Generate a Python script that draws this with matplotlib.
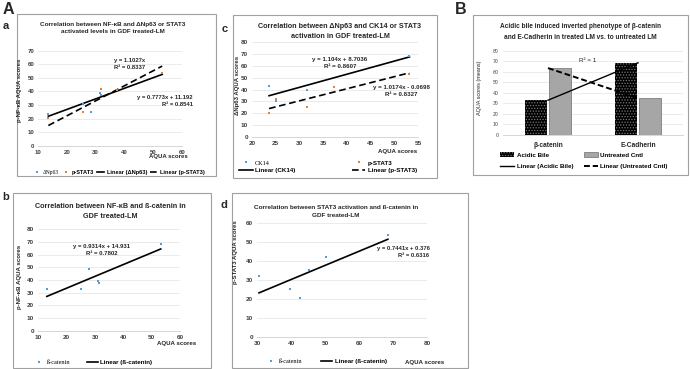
import numpy as np
import matplotlib
matplotlib.use("Agg")
import matplotlib.pyplot as plt
from matplotlib.lines import Line2D
from matplotlib.patches import Patch, Rectangle

# ---- data ----
# panel a: NF-kB vs dNp63 / STAT3
a_dnp63_x = [13.5, 25.5, 28.5, 31.5, 31.8, 53.2]
a_dnp63_y = [23.5, 31.0, 25.0, 38.5, 37.0, 53.5]
a_stat3_x = [13.5, 25.5, 31.8, 37.5, 53.2]
a_stat3_y = [20.5, 25.0, 42.0, 41.0, 53.5]
a_dnp63_fit = [0.7773, 11.192]
a_stat3_fit = [1.1027, 0.0]

# panel c: dNp63 vs CK14 / STAT3
c_ck14_x = [23.6, 25.1, 31.5, 53.2]
c_ck14_y = [42.7, 30.5, 39.9, 68.2]
c_stat3_x = [23.6, 25.1, 31.5, 37.3, 53.2]
c_stat3_y = [20.3, 31.7, 25.3, 42.1, 53.4]
c_ck14_fit = [1.104, 8.7036]
c_stat3_fit = [1.0174, -0.0698]

# panel b: NF-kB vs b-catenin
b_cat_x = [13.0, 25.1, 28.0, 31.0, 31.4, 53.2]
b_cat_y = [32.8, 32.9, 48.7, 39.0, 37.4, 68.4]
b_cat_fit = [0.9314, 14.931]

# panel d: STAT3 vs b-catenin
d_cat_x = [30.5, 39.6, 42.6, 45.2, 50.2, 68.4]
d_cat_y = [31.8, 25.1, 20.2, 35.1, 42.1, 53.7]
d_cat_fit = [0.7441, 0.376]

# panel B: bars
B_cats = ["β-catenin", "E-Cadherin"]
B_acidic = [33.0, 68.5]
B_untreated = [63.5, 35.0]

W, H = 690, 369
BLUE = "#5b9bd5"
ORANGE = "#ed7d31"
SANS = ["Liberation Sans Narrow", "Liberation Sans", "DejaVu Sans"]
SERIF = ["Liberation Serif", "DejaVu Serif"]
plt.rcParams["font.family"] = SANS
plt.rcParams["hatch.linewidth"] = 0.6
DASH = (0, (4, 2.2))


def box(l, t, r, b):
    return [l / W, 1 - b / H, (r - l) / W, (b - t) / H]


def fx(x):
    return x / W


def fy(y):
    return 1 - y / H


fig = plt.figure(figsize=(6.9, 3.69), dpi=100)


def frame(l, t, r, b):
    fig.patches.append(Rectangle((l / W, 1 - b / H), (r - l) / W, (b - t) / H,
                                 transform=fig.transFigure, fill=False,
                                 edgecolor="#a0a0a0", lw=0.8))


def txt(x, y, s, size=4.5, bold=True, ha="center", **kw):
    fig.text(fx(x), fy(y), s, fontsize=size, ha=ha, va="center",
             fontweight="bold" if bold else "normal", color="#262626", **kw)


def excel(ax, size=4.6):
    for s in ["top", "right", "left"]:
        ax.spines[s].set_visible(False)
    ax.spines["bottom"].set_color("#d0d0d0")
    ax.spines["bottom"].set_linewidth(0.6)
    ax.grid(axis="y", color="#e3e3e3", lw=0.5)
    ax.set_axisbelow(True)
    ax.tick_params(length=0, labelsize=size, pad=3, colors="#404040")
    for lab in ax.get_xticklabels() + ax.get_yticklabels():
        lab.set_fontweight("bold")


def trend(ax, xs, fit, **kw):
    xx = np.array([min(xs), max(xs)])
    ax.plot(xx, np.polyval(fit, xx), color="black", lw=1.2, **kw)


def pts(ax, xs, ys, c):
    ax.plot(xs, ys, "s", ms=2.1, color=c, mew=0, zorder=5)


def legend(handles, labels, x, y, ncol, serif=(), size=4.5, **kw):
    lg = fig.legend(handles, labels, loc="center", bbox_to_anchor=(fx(x), fy(y)),
                    ncol=ncol, frameon=False, fontsize=size, handletextpad=0.4,
                    borderpad=0, **kw)
    for t in lg.get_texts():
        if t.get_text() in serif:
            t.set_family(SERIF)
        else:
            t.set_fontweight("bold")
    return lg


mk_blue = Line2D([], [], marker="s", ls="none", ms=2.1, color=BLUE, mew=0)
mk_orange = Line2D([], [], marker="s", ls="none", ms=2.1, color=ORANGE, mew=0)
ln_solid = Line2D([], [], color="black", lw=1.2)
ln_dash = Line2D([], [], color="black", lw=1.2, ls=DASH)

# ---- panel a ----
frame(17, 14, 216, 176)
ax = fig.add_axes(box(38.3, 50.7, 181.7, 145.7))
pts(ax, a_dnp63_x, a_dnp63_y, BLUE)
pts(ax, a_stat3_x, a_stat3_y, ORANGE)
trend(ax, a_dnp63_x, a_dnp63_fit)
trend(ax, a_stat3_x, a_stat3_fit, ls=DASH)
ax.set_xlim(10, 60)
ax.set_ylim(0, 70)
ax.set_xticks(range(10, 61, 10))
ax.set_yticks(range(0, 71, 10))
excel(ax, 4.3)
txt(113, 28, "Correlation between NF-κB and ΔNp63 or STAT3\nactivated levels in GDF treated-LM",
    size=4.6, linespacing=1.65)
txt(20, 90, "p-NF-κB AQUA scores", size=4.3, rotation=90)
txt(168, 156, "AQUA scores", size=4.3)
txt(130, 64, "y = 1.1027x\nR² = 0.8337", size=4.2, linespacing=1.5)
txt(165, 101, "y = 0.7773x + 11.192\nR² = 0.8541", size=4.2, linespacing=1.5, multialignment="right")
legend([mk_blue, mk_orange, ln_solid, ln_dash],
       ["ΔNp63", "p-STAT3", "Linear (ΔNp63)", "Linear (p-STAT3)"],
       119, 172.7, 4, serif=("ΔNp63",), size=4.1, handlelength=1.3, columnspacing=0.5)

# ---- panel c ----
frame(233, 15, 437, 178)
ax = fig.add_axes(box(252, 42, 418, 137))
pts(ax, c_ck14_x, c_ck14_y, BLUE)
pts(ax, c_stat3_x, c_stat3_y, ORANGE)
trend(ax, c_ck14_x, c_ck14_fit)
trend(ax, c_stat3_x, c_stat3_fit, ls=DASH)
ax.set_xlim(20, 55)
ax.set_ylim(0, 80)
ax.set_xticks(range(20, 56, 5))
ax.set_yticks(range(0, 81, 10))
excel(ax)
txt(340, 31.5, "Correlation between ΔNp63 and CK14 or STAT3\nactivation in GDF treated-LM",
    size=5.2, linespacing=1.5)
txt(238, 85, "ΔNp63 AQUA scores", size=4.3, rotation=90)
txt(398, 151, "AQUA scores", size=4.4)
txt(340, 63, "y = 1.104x + 8.7036\nR² = 0.8607", size=4.4, linespacing=1.5)
txt(401, 91, "y = 1.0174x - 0.0698\nR² = 0.8327", size=4.4, linespacing=1.5)
legend([mk_blue, ln_solid, mk_orange, ln_dash],
       ["CK14", "Linear (CK14)", "p-STAT3", "Linear (p-STAT3)"],
       328, 166.5, 2, serif=("CK14",), handlelength=2.2, columnspacing=9.0,
       labelspacing=0.3)

# ---- panel b ----
frame(13, 193, 211, 368)
ax = fig.add_axes(box(38.3, 229.3, 180, 330.7))
pts(ax, b_cat_x, b_cat_y, BLUE)
trend(ax, b_cat_x, b_cat_fit)
ax.set_xlim(10, 60)
ax.set_ylim(0, 80)
ax.set_xticks(range(10, 61, 10))
ax.set_yticks(range(0, 81, 10))
excel(ax)
txt(110, 211.5, "Correlation between NF-κB and ß-catenin in\nGDF treated-LM", size=5.2, linespacing=1.5)
txt(20, 277, "p-NF-κB AQUA scores", size=4.4, rotation=90)
txt(177, 344, "AQUA scores", size=4.4)
txt(102, 250, "y = 0.9314x + 14.931\nR² = 0.7802", size=4.3, linespacing=1.5)
legend([mk_blue, ln_solid], ["ß-catenin", "Linear (ß-catenin)"], 93, 362.5, 2,
       serif=("ß-catenin",), handlelength=1.8, columnspacing=2.5)

# ---- panel d ----
frame(232, 193, 468, 368)
ax = fig.add_axes(box(257.3, 222.7, 427.3, 336.7))
pts(ax, d_cat_x, d_cat_y, BLUE)
trend(ax, d_cat_x, d_cat_fit)
ax.set_xlim(30, 80)
ax.set_ylim(0, 60)
ax.set_xticks(range(30, 81, 10))
ax.set_yticks(range(0, 61, 10))
excel(ax)
txt(336, 211.5, "Correlation between STAT3 activation and ß-catenin in\nGDF treated-LM",
    size=4.6, linespacing=1.7)
txt(236, 252, "p-STAT3 AQUA scores", size=4.3, rotation=90)
txt(425, 362.7, "AQUA scores", size=4.4)
txt(403, 252, "y = 0.7441x + 0.376\nR² = 0.6316", size=4.2, linespacing=1.5, multialignment="right")
legend([mk_blue, ln_solid], ["ß-catenin", "Linear (ß-catenin)"], 326, 361.7, 2,
       serif=("ß-catenin",), handlelength=1.8, columnspacing=3.0)

# ---- panel B ----
frame(473, 15, 688, 175)
ax = fig.add_axes(box(503, 50.7, 683, 135))
xpos = np.arange(len(B_cats))
bw = 0.24
ax.bar(xpos - 0.135, B_acidic, bw, color="black", hatch="......", edgecolor="#7a7a7a", lw=0)
ax.bar(xpos + 0.135, B_untreated, bw, color="#a6a6a6", edgecolor="#7f7f7f", lw=0.6)
ax.plot(xpos, B_acidic, color="black", lw=1.0)
ax.plot(xpos, B_untreated, color="black", lw=1.4, ls=(0, (3, 1.5)))
ax.set_xlim(-0.5, 1.5)
ax.set_ylim(0, 80)
ax.set_yticks(range(0, 81, 10))
ax.set_xticks(xpos)
ax.set_xticklabels(B_cats)
excel(ax)
ax.tick_params(axis="x", labelsize=4.8, pad=5, colors="#262626")
ax.tick_params(axis="y", labelsize=3.8, colors="#808080")
txt(580, 32, "Acidic bile induced inverted phenotype of β-catenin\nand E-Cadherin in treated LM vs. to untreated LM",
    size=4.7, linespacing=1.65)
txt(480, 88, "AQUA scores (means)", size=4.0, bold=False, rotation=90)
txt(588, 60, "R² = 1", size=4.5, bold=False)
legend([Patch(facecolor="black", hatch="......", edgecolor="#7a7a7a", lw=0),
        Line2D([], [], color="black", lw=1.0),
        Patch(facecolor="#a6a6a6", edgecolor="#7f7f7f", lw=0.6),
        Line2D([], [], color="black", lw=1.4, ls=(0, (3, 1.5)))],
       ["Acidic Bile", "Linear (Acidic Bile)", "Untreated Cntl", "Linear (Untreated Cntl)"],
       584, 160.5, 2, handlelength=2.3, columnspacing=1.6, labelspacing=0.9)

# panel letters
txt(8, 10, "A", size=11.5, ha="center")
txt(461, 9, "B", size=11.5, ha="center")
txt(6, 26, "a", size=8)
txt(225, 29, "c", size=8)
txt(6, 197, "b", size=8)
txt(224, 205, "d", size=8)

fig.savefig("out.png", dpi=100)
